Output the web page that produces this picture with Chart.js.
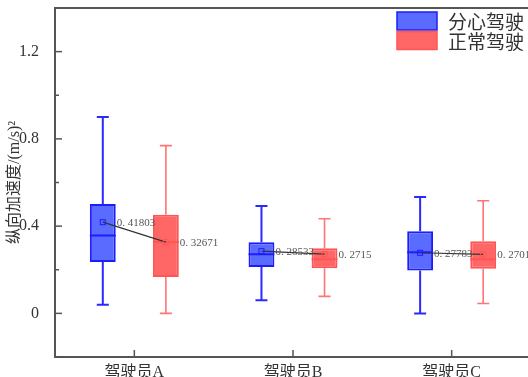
<!DOCTYPE html>
<html>
<head>
<meta charset="utf-8">
<script src="https://cdn.jsdelivr.net/npm/chart.js@4.4.0/dist/chart.umd.min.js"></script>
<style>
html,body{margin:0;padding:0;overflow:hidden;background:#fff;width:528px;height:377px;}
#wrap{width:540px;height:377px;position:relative;}
</style>
</head>
<body>
<div id="wrap"><canvas id="c" width="540" height="377"></canvas></div>
<script>
// ---- data ----
const categories = ['驾驶员A', '驾驶员B', '驾驶员C'];
const seriesNames = ['分心驾驶', '正常驾驶'];
const yTicks = [0, 0.4, 0.8, 1.2];

const distMin    = [0.04, 0.06, 0.0];
const distQ1     = [0.236, 0.213, 0.196];
const distMedian = [0.357, 0.271, 0.280];
const distQ3     = [0.501, 0.326, 0.377];
const distMax    = [0.90, 0.492, 0.533];
const distMean   = [0.41803, 0.28533, 0.27783];

const normMin    = [0.0, 0.078, 0.045];
const normQ1     = [0.167, 0.207, 0.205];
const normMedian = [0.327, 0.248, 0.248];
const normQ3     = [0.452, 0.299, 0.331];
const normMax    = [0.769, 0.434, 0.516];
const normMean   = [0.32671, 0.2715, 0.2701];

const FONT = "'Liberation Serif', 'Noto Sans CJK SC', serif";
const stats = [
  {min: distMin, q1: distQ1, med: distMedian, q3: distQ3, max: distMax, mean: distMean,
   fill: '#5a6cff', border: '#1c1cff', whisker: '#2a2aff', ww: 2},
  {min: normMin, q1: normQ1, med: normMedian, q3: normQ3, max: normMax, mean: normMean,
   fill: '#ff6666', border: '#ff5555', whisker: '#ff7474', ww: 1.6}
];

const boxPlugin = {
  id: 'boxExtras',
  afterDatasetsDraw(chart) {
    const ctx = chart.ctx;
    const y = chart.scales.y;
    const x = chart.scales.x;
    const area = chart.chartArea;
    const pos = [];
    stats.forEach((s, di) => {
      const meta = chart.getDatasetMeta(di);
      pos[di] = [];
      meta.data.forEach((bar, i) => {
        const p = bar.getProps(['x', 'width'], true);
        const cx = p.x, hw = p.width / 2;
        pos[di][i] = {cx, hw};
        ctx.save();
        ctx.strokeStyle = s.whisker;
        ctx.lineWidth = s.ww;
        const yMax = y.getPixelForValue(s.max[i]);
        const yMin = y.getPixelForValue(s.min[i]);
        const yQ1 = y.getPixelForValue(s.q1[i]);
        const yQ3 = y.getPixelForValue(s.q3[i]);
        ctx.beginPath();
        ctx.moveTo(cx, yQ3); ctx.lineTo(cx, yMax);
        ctx.moveTo(cx - 6, yMax); ctx.lineTo(cx + 6, yMax);
        ctx.moveTo(cx, yQ1); ctx.lineTo(cx, yMin);
        ctx.moveTo(cx - 6, yMin); ctx.lineTo(cx + 6, yMin);
        ctx.stroke();
        ctx.strokeStyle = s.border;
        ctx.lineWidth = 2;
        const yMed = y.getPixelForValue(s.med[i]);
        ctx.beginPath();
        ctx.moveTo(cx - hw, yMed); ctx.lineTo(cx + hw, yMed);
        ctx.stroke();
        ctx.restore();
      });
    });
    ctx.save();
    ctx.strokeStyle = '#333';
    ctx.lineWidth = 1.2;
    categories.forEach((c, i) => {
      ctx.beginPath();
      ctx.moveTo(pos[0][i].cx, y.getPixelForValue(stats[0].mean[i]));
      ctx.lineTo(pos[1][i].cx, y.getPixelForValue(stats[1].mean[i]));
      ctx.stroke();
    });
    ctx.restore();
    stats.forEach((s, di) => {
      categories.forEach((c, i) => {
        const {cx, hw} = pos[di][i];
        const ym = y.getPixelForValue(s.mean[i]);
        ctx.save();
        ctx.strokeStyle = s.border;
        ctx.lineWidth = 1;
        ctx.strokeRect(cx - 2.5, ym - 2.5, 5, 5);
        ctx.fillStyle = '#555';
        ctx.font = "11px " + FONT;
        ctx.textAlign = 'left';
        ctx.textBaseline = 'middle';
        ctx.fillText(String(s.mean[i]).replace('.', '. '), cx + hw + 1, ym + 1);
        ctx.restore();
      });
    });
    ctx.save();
    ctx.strokeStyle = '#555';
    ctx.lineWidth = 2;
    ctx.strokeRect(area.left, area.top, area.right - area.left, area.bottom - area.top);
    ctx.lineWidth = 1.5;
    for (let v = -0.2; v <= 1.4001; v += 0.2) {
      const vv = Math.round(v * 10) / 10;
      const py = y.getPixelForValue(vv);
      const major = yTicks.includes(vv);
      ctx.beginPath();
      ctx.moveTo(area.left, py);
      ctx.lineTo(area.left + (major ? 7 : 4), py);
      ctx.stroke();
    }
    categories.forEach((c, i) => {
      const px = x.getPixelForValue(i);
      ctx.beginPath();
      ctx.moveTo(px, area.bottom);
      ctx.lineTo(px, area.bottom - 7);
      ctx.stroke();
    });
    ctx.restore();
    ctx.save();
    const lx = 397, ly = 12, bw = 40, bh = 18;
    stats.forEach((s, di) => {
      const top = ly + di * (bh + 1.5);
      ctx.fillStyle = s.fill;
      ctx.fillRect(lx, top, bw, bh);
      ctx.strokeStyle = s.border;
      ctx.lineWidth = 1.5;
      ctx.strokeRect(lx, top, bw, bh);
      ctx.fillStyle = '#333';
      ctx.font = "19px 'Noto Sans CJK SC', sans-serif";
      ctx.textAlign = 'left';
      ctx.textBaseline = 'middle';
      ctx.fillText(seriesNames[di], 448, top + bh / 2 + 1);
    });
    ctx.restore();
  }
};

new Chart(document.getElementById('c'), {
  type: 'bar',
  data: {
    labels: categories,
    datasets: stats.map((s, di) => ({
      label: seriesNames[di],
      data: s.q1.map((q, i) => [q, s.q3[i]]),
      backgroundColor: s.fill,
      borderColor: s.border,
      borderWidth: 2,
      borderSkipped: false,
      categoryPercentage: 0.795,
      barPercentage: 0.41
    }))
  },
  options: {
    responsive: false,
    animation: false,
    layout: {padding: {top: 8, right: 9, left: 0, bottom: 0}},
    plugins: {legend: {display: false}, tooltip: {enabled: false}},
    scales: {
      x: {
        grid: {display: false},
        border: {display: false},
        ticks: {font: {family: FONT, size: 16}, color: '#333', padding: -2},
        afterFit(scale) { scale.height = 20; scale.paddingLeft = 0; scale.paddingRight = 0; }
      },
      y: {
        min: -0.2, max: 1.4,
        grid: {display: false},
        border: {display: false},
        afterBuildTicks(scale) { scale.ticks = yTicks.map(v => ({value: v})); },
        ticks: {
          font: {family: FONT, size: 16}, color: '#333', padding: 8,
          callback: v => (v === 0 ? '0' : v.toFixed(1))
        },
        title: {
          display: true, text: '纵向加速度/(m/s)²',
          font: {family: FONT, size: 16}, color: '#333',
          padding: {top: 5, bottom: 0}
        },
        afterFit(scale) { scale.width = 55; scale.paddingTop = 0; scale.paddingBottom = 0; }
      }
    }
  },
  plugins: [boxPlugin]
});
</script>
</body>
</html>
